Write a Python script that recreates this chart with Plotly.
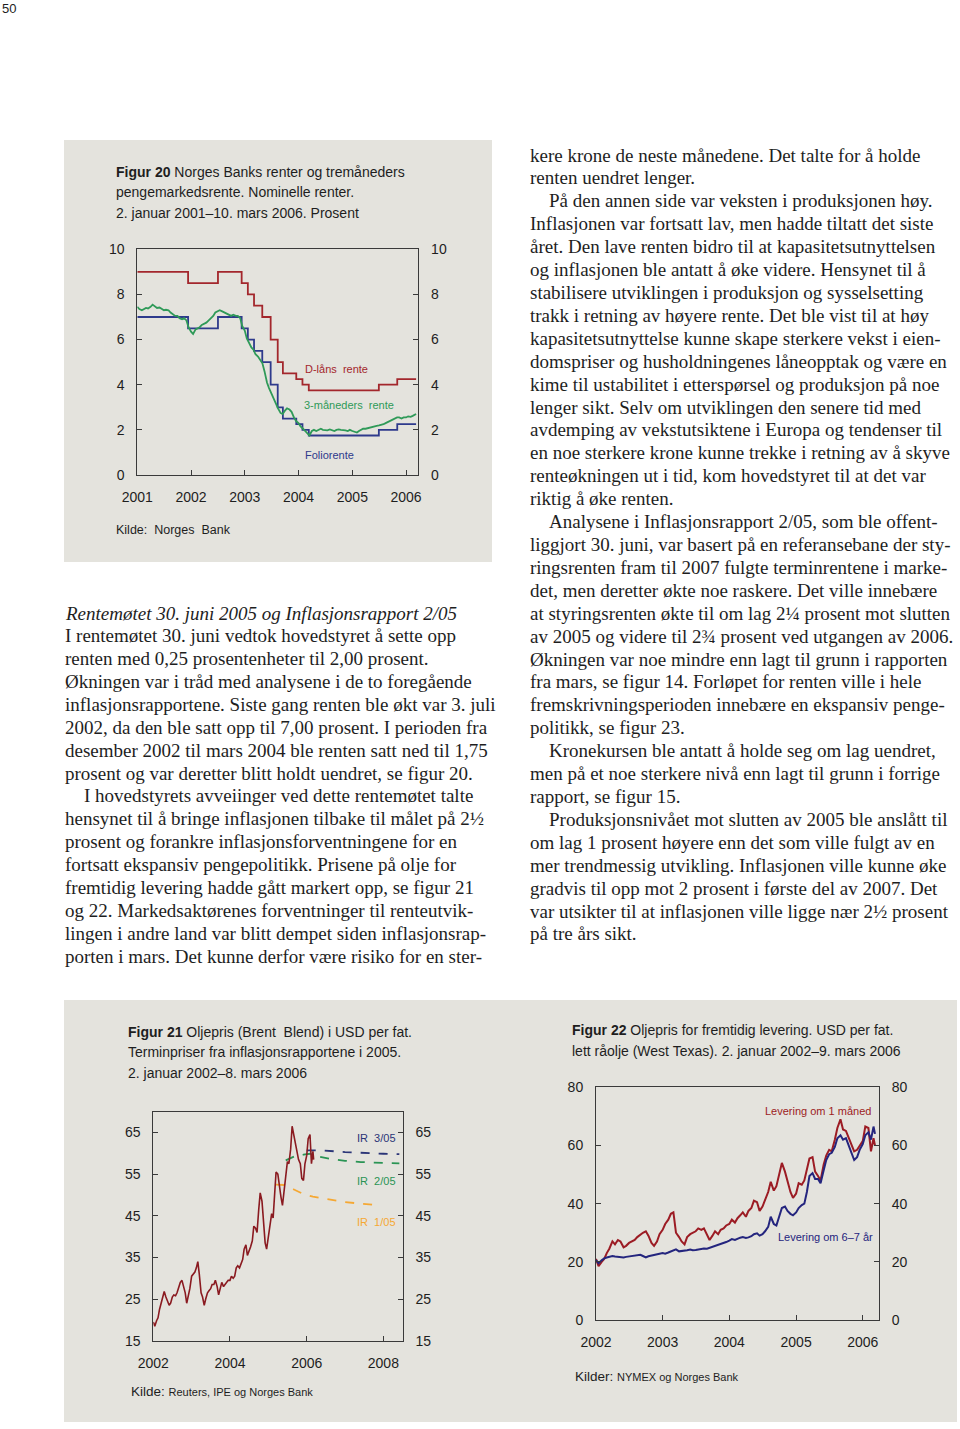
import pandas as pd
import plotly.graph_objects as go

# ---------------- DATA ----------------
# Figur 20: policy rates (step series) and 3-month money market rate
policy_dates = ['2001-01-01', '2001-12-12', '2002-07-03', '2002-12-11', '2003-01-22',
                '2003-03-05', '2003-04-30', '2003-06-26', '2003-08-13', '2003-09-17',
                '2003-12-17', '2004-01-28', '2004-03-11', '2005-06-30', '2005-11-02',
                '2006-03-10']
folio_rate = [7.0, 6.5, 7.0, 6.5, 6.0, 5.5, 5.0, 4.0, 3.0, 2.5, 2.25, 2.0, 1.75, 2.0, 2.25, 2.25]
dlan_rate = [9.0, 8.5, 9.0, 8.5, 8.0, 7.5, 7.0, 6.0, 5.0, 4.5, 4.25, 4.0, 3.75, 4.0, 4.25, 4.25]

nibor_3m = [
    # 2001
    7.45, 7.35, 7.30, 7.35, 7.40, 7.38, 7.45, 7.55, 7.45, 7.40, 7.42, 7.35,
    7.30, 7.32, 7.30, 7.20, 7.10, 7.05, 7.05, 6.95, 6.90, 6.95, 6.85, 6.55,
    # 2002
    6.35, 6.25, 6.45, 6.50, 6.55, 6.65, 6.70, 6.75, 6.85, 6.95, 7.05, 7.20,
    7.25, 7.30, 7.25, 7.20, 7.15, 7.10, 7.05, 7.10, 7.05, 7.05, 6.95, 6.60,
    # 2003
    6.40, 6.05, 5.80, 5.65, 5.55, 5.35, 5.25, 5.10, 4.95, 4.60, 4.10, 3.85,
    3.60, 3.40, 3.10, 2.95, 2.75, 2.70, 2.85, 2.95, 2.90, 2.80, 2.55, 2.40,
    # 2004
    2.30, 2.15, 2.05, 1.95, 1.85, 1.75, 1.95, 2.00, 1.95, 2.00, 2.05, 2.00,
    2.00, 1.98, 2.02, 1.98, 1.95, 2.00, 2.02, 2.00, 2.00, 1.98, 1.95, 2.00,
    # 2005
    1.95, 1.92, 1.88, 1.95, 2.00, 2.05, 2.05, 2.08, 2.10, 2.12, 2.15, 2.18,
    2.20, 2.22, 2.25, 2.30, 2.35, 2.40, 2.45, 2.50, 2.55, 2.55, 2.50, 2.55,
    # 2006
    2.55, 2.60, 2.58, 2.62, 2.68, 2.70]
nibor_start, nibor_end = '2001-01-01', '2006-03-10'

# Figur 21: Brent Blend, USD per barrel, and forward prices from the 2005 reports
brent = [
    # 2002
    19.5, 18.5, 19.8, 20.5, 22.5, 24.0, 26.0, 26.8, 25.5, 24.5, 23.5, 24.0,
    25.5, 26.0, 25.8, 26.5, 28.0, 29.0, 29.5, 28.0, 26.5, 24.0, 25.5, 27.5,
    # 2003
    30.5, 31.0, 31.5, 32.5, 34.0, 31.0, 26.5, 25.5, 23.5, 25.0, 26.5, 27.0,
    27.5, 28.5, 28.5, 29.5, 28.0, 26.0, 28.0, 29.0, 28.0, 28.5, 29.0, 29.5,
    # 2004
    29.5, 30.5, 30.0, 30.5, 32.5, 33.0, 32.5, 33.5, 34.5, 37.0, 38.0, 35.5,
    36.5, 37.5, 39.0, 42.5, 42.0, 41.0, 46.5, 50.5, 48.5, 43.0, 38.5, 37.0,
    # 2005
    40.5, 43.0, 45.5, 44.5, 50.0, 55.5, 55.0, 52.0, 49.5, 47.5, 51.0, 55.0,
    58.0, 57.5, 61.0, 66.5, 64.5, 62.5, 61.0, 58.5, 57.5, 54.0, 53.5, 57.5,
    # 2006
    59.5, 63.5, 64.5, 57.5, 60.5, 58.5]
brent_start, brent_end = '2002-01-01', '2006-03-08'

ir105_dates = ['2005-03-15', '2005-06-01', '2005-09-01', '2005-12-01', '2006-03-01',
               '2006-06-01', '2006-09-01', '2007-01-01', '2007-06-01', '2007-12-01']
ir105_price = [52.5, 52.4, 51.3, 50.2, 49.6, 49.2, 48.8, 48.3, 47.9, 47.5]
ir205_dates = ['2005-06-15', '2005-09-01', '2005-12-01', '2006-02-01', '2006-05-01',
               '2006-09-01', '2007-01-01', '2007-06-01', '2008-01-01', '2008-06-01']
ir205_price = [58.3, 59.2, 59.7, 59.9, 59.2, 58.6, 58.2, 57.9, 57.7, 57.6]
ir305_dates = ['2006-01-01', '2006-06-01', '2007-01-01', '2007-06-01', '2008-01-01', '2008-06-01']
ir305_price = [60.7, 60.7, 60.3, 60.1, 59.9, 59.8]

# Figur 22: WTI, delivery in 1 month and in 6-7 years
wti_1m = [
    # 2002
    21.0, 18.5, 20.0, 21.0, 23.0, 24.5, 27.0, 26.0, 27.5, 27.0, 25.0, 25.5,
    26.5, 27.0, 27.5, 28.5, 29.5, 30.0, 30.5, 29.0, 26.5, 25.5, 27.0, 29.5,
    # 2003
    31.0, 33.0, 34.5, 36.5, 37.0, 30.0, 28.5, 27.0, 26.0, 28.5, 29.5, 30.0,
    30.5, 31.5, 31.0, 31.5, 29.5, 27.5, 29.0, 30.5, 29.5, 31.0, 31.5, 32.5,
    # 2004
    33.0, 34.5, 33.5, 35.0, 36.0, 37.0, 35.5, 37.5, 38.5, 41.0, 40.5, 37.5,
    39.0, 41.0, 44.0, 47.5, 44.5, 46.0, 50.0, 54.0, 51.0, 47.5, 44.0, 42.0,
    # 2005
    43.5, 47.0, 46.5, 48.0, 52.0, 55.5, 56.0, 51.0, 49.5, 48.0, 53.5, 56.5,
    58.5, 58.0, 62.0, 66.0, 69.0, 65.5, 65.0, 63.0, 60.0, 58.0, 58.5, 60.0,
    # 2006
    61.5, 66.5, 66.0, 58.0, 62.5, 60.0]
wti_6y = [
    # 2002
    20.6, 19.5, 20.5, 21.2, 21.5, 21.8, 22.0, 21.8, 21.7, 21.6, 21.5, 21.7,
    21.8, 21.9, 22.0, 22.3, 22.4, 22.0, 21.5, 21.9, 22.2, 22.5, 22.6, 22.8,
    # 2003
    23.0, 22.8, 23.2, 23.5, 23.8, 24.3, 23.6, 23.8, 23.9, 24.0, 24.2, 24.0,
    24.1, 24.3, 24.5, 24.6, 24.5, 24.8, 25.2, 25.5, 25.8, 26.0, 26.3, 26.8,
    # 2004
    27.3, 27.8, 27.5, 28.0, 28.3, 28.5, 28.2, 28.4, 28.8, 29.5, 29.8, 29.0,
    29.5, 30.5, 32.0, 35.5, 33.0, 32.5, 35.5, 38.5, 39.0, 37.5, 36.5, 36.0,
    # 2005
    37.0, 38.5, 39.5, 40.0, 44.0, 49.5, 50.5, 48.5, 48.5, 47.0, 51.5, 55.0,
    57.0, 57.5, 59.5, 62.5, 63.5, 62.0, 62.5, 60.0, 57.0, 55.0, 56.0, 58.5,
    # 2006
    60.5, 63.5, 64.5, 62.0, 66.5, 64.0]
wti_start, wti_end = '2002-01-01', '2006-03-09'

fig20_yticks = [0, 2, 4, 6, 8, 10]
fig21_yticks = [15, 25, 35, 45, 55, 65]
fig22_yticks = [0, 20, 40, 60, 80]

# ---------------- TEXT ----------------
left_col = [
    "<i>Rentemøtet 30. juni 2005 og Inflasjonsrapport 2/05</i>",
    "I rentemøtet 30. juni vedtok hovedstyret å sette opp",
    "renten med 0,25 prosentenheter til 2,00 prosent.",
    "Økningen var i tråd med analysene i de to foregående",
    "inflasjonsrapportene. Siste gang renten ble økt var 3. juli",
    "2002, da den ble satt opp til 7,00 prosent. I perioden fra",
    "desember 2002 til mars 2004 ble renten satt ned til 1,75",
    "prosent og var deretter blitt holdt uendret, se figur 20.",
    "\u2003I hovedstyrets avveiinger ved dette rentemøtet talte",
    "hensynet til å bringe inflasjonen tilbake til målet på 2½",
    "prosent og forankre inflasjonsforventningene for en",
    "fortsatt ekspansiv pengepolitikk. Prisene på olje for",
    "fremtidig levering hadde gått markert opp, se figur 21",
    "og 22. Markedsaktørenes forventninger til renteutvik-",
    "lingen i andre land var blitt dempet siden inflasjonsrap-",
    "porten i mars. Det kunne derfor være risiko for en ster-",
]
right_col = [
    "kere krone de neste månedene. Det talte for å holde",
    "renten uendret lenger.",
    "\u2003På den annen side var veksten i produksjonen høy.",
    "Inflasjonen var fortsatt lav, men hadde tiltatt det siste",
    "året. Den lave renten bidro til at kapasitetsutnyttelsen",
    "og inflasjonen ble antatt å øke videre. Hensynet til å",
    "stabilisere utviklingen i produksjon og sysselsetting",
    "trakk i retning av høyere rente. Det ble vist til at høy",
    "kapasitetsutnyttelse kunne skape sterkere vekst i eien-",
    "domspriser og husholdningenes låneopptak og være en",
    "kime til ustabilitet i etterspørsel og produksjon på noe",
    "lenger sikt. Selv om utviklingen den senere tid med",
    "avdemping av vekstutsiktene i Europa og tendenser til",
    "en noe sterkere krone kunne trekke i retning av å skyve",
    "renteøkningen ut i tid, kom hovedstyret til at det var",
    "riktig å øke renten.",
    "\u2003Analysene i Inflasjonsrapport 2/05, som ble offent-",
    "liggjort 30. juni, var basert på en referansebane der sty-",
    "ringsrenten fram til 2007 fulgte terminrentene i marke-",
    "det, men deretter økte noe raskere. Det ville innebære",
    "at styringsrenten økte til om lag 2¼ prosent mot slutten",
    "av 2005 og videre til 2¾ prosent ved utgangen av 2006.",
    "Økningen var noe mindre enn lagt til grunn i rapporten",
    "fra mars, se figur 14. Forløpet for renten ville i hele",
    "fremskrivningsperioden innebære en ekspansiv penge-",
    "politikk, se figur 23.",
    "\u2003Kronekursen ble antatt å holde seg om lag uendret,",
    "men på et noe sterkere nivå enn lagt til grunn i forrige",
    "rapport, se figur 15.",
    "\u2003Produksjonsnivået mot slutten av 2005 ble anslått til",
    "om lag 1 prosent høyere enn det som ville fulgt av en",
    "mer trendmessig utvikling. Inflasjonen ville kunne øke",
    "gradvis til opp mot 2 prosent i første del av 2007. Det",
    "var utsikter til at inflasjonen ville ligge nær 2½ prosent",
    "på tre års sikt.",
]

# ---------------- STYLE ----------------
W, H = 960, 1429
SANS = "Liberation Sans, Arial, Helvetica, sans-serif"
SERIF = "Liberation Serif, Times New Roman, serif"
BOX = "#e4e3dd"
AX = "#3a3a3a"
TXT = "#1e1e1e"
RED20, GRN20, BLU20 = "#a3272c", "#2f9a58", "#2e3a8c"
BRENT = "#8a1a20"
IR1, IR2, IR3 = "#f5a833", "#2a9454", "#2b3577"
WRED, WBLU = "#9c1c24", "#24257e"
TICK = 14


def px(x):
    return x / W


def py(y):
    return 1 - y / H


def sms_dates(start, values, end):
    d = list(pd.date_range(start, periods=len(values) - 1, freq='SMS').strftime('%Y-%m-%d'))
    return d + [end]


fig = go.Figure()

# Figur 20 traces
fig.add_trace(go.Scatter(x=policy_dates, y=dlan_rate, mode='lines', line=dict(color=RED20, width=1.8, shape='hv'),
                         xaxis='x', yaxis='y', showlegend=False))
fig.add_trace(go.Scatter(x=policy_dates, y=folio_rate, mode='lines', line=dict(color=BLU20, width=1.8, shape='hv'),
                         xaxis='x', yaxis='y', showlegend=False))
fig.add_trace(go.Scatter(x=sms_dates(nibor_start, nibor_3m, nibor_end), y=nibor_3m, mode='lines',
                         line=dict(color=GRN20, width=1.8), xaxis='x', yaxis='y', showlegend=False))
fig.add_trace(go.Scatter(x=[], y=[], xaxis='x', yaxis='y2', showlegend=False, hoverinfo='skip'))

# Figur 21 traces
fig.add_trace(go.Scatter(x=ir105_dates, y=ir105_price, mode='lines', line=dict(color=IR1, width=1.8, dash='dash'),
                         xaxis='x2', yaxis='y3', showlegend=False))
fig.add_trace(go.Scatter(x=ir205_dates, y=ir205_price, mode='lines', line=dict(color=IR2, width=1.8, dash='dash'),
                         xaxis='x2', yaxis='y3', showlegend=False))
fig.add_trace(go.Scatter(x=ir305_dates, y=ir305_price, mode='lines', line=dict(color=IR3, width=1.8, dash='dash'),
                         xaxis='x2', yaxis='y3', showlegend=False))
fig.add_trace(go.Scatter(x=sms_dates(brent_start, brent, brent_end), y=brent, mode='lines',
                         line=dict(color=BRENT, width=1.6), xaxis='x2', yaxis='y3', showlegend=False))
fig.add_trace(go.Scatter(x=[], y=[], xaxis='x2', yaxis='y4', showlegend=False, hoverinfo='skip'))

# Figur 22 traces
fig.add_trace(go.Scatter(x=sms_dates(wti_start, wti_1m, wti_end), y=wti_1m, mode='lines',
                         line=dict(color=WRED, width=2), xaxis='x3', yaxis='y5', showlegend=False))
fig.add_trace(go.Scatter(x=sms_dates(wti_start, wti_6y, wti_end), y=wti_6y, mode='lines',
                         line=dict(color=WBLU, width=2), xaxis='x3', yaxis='y5', showlegend=False))
fig.add_trace(go.Scatter(x=[], y=[], xaxis='x3', yaxis='y6', showlegend=False, hoverinfo='skip'))


def xax(dom, rng, dtick, anchor):
    return dict(domain=[px(dom[0]), px(dom[1])], range=rng, type='date', dtick=dtick, tickformat='%Y',
                ticks='inside', ticklen=5, tickcolor=AX, showline=True, linecolor=AX, linewidth=1,
                mirror=True, showgrid=False, zeroline=False, anchor=anchor, ticklabelstandoff=9,
                automargin=False, tickfont=dict(family=SANS, size=TICK, color=TXT))


def yax(dom, rng, tickvals, anchor, side='left', overlay=None):
    d = dict(range=rng, tickvals=tickvals, ticks='inside', ticklen=5, tickcolor=AX, showline=True,
             linecolor=AX, linewidth=1, showgrid=False, zeroline=False, anchor=anchor, side=side,
             ticklabelstandoff=9, automargin=False, tickfont=dict(family=SANS, size=TICK, color=TXT))
    if overlay:
        d['overlaying'] = overlay
    else:
        d['domain'] = [py(dom[1]), py(dom[0])]
        d['mirror'] = True
    return d


layout = dict(
    width=W, height=H, autosize=False, margin=dict(l=0, r=0, t=0, b=0, pad=0, autoexpand=False),
    paper_bgcolor='white', plot_bgcolor='rgba(0,0,0,0)', showlegend=False,
    xaxis=xax((137.3, 418.3), ['2001-01-01', '2006-03-25'], 'M12', 'y'),
    yaxis=yax((249.3, 475), [0, 10], fig20_yticks, 'x'),
    yaxis2=yax(None, [0, 10], fig20_yticks, 'x', 'right', 'y'),
    xaxis2=xax((153.3, 402.7), ['2002-01-01', '2008-07-03'], 'M24', 'y3'),
    yaxis3=yax((1111.7, 1340.7), [15, 70], fig21_yticks, 'x2'),
    yaxis4=yax(None, [15, 70], fig21_yticks, 'x2', 'right', 'y3'),
    xaxis3=xax((596, 879), ['2002-01-01', '2006-03-31'], 'M12', 'y5'),
    yaxis5=yax((1087.3, 1320), [0, 80], fig22_yticks, 'x3'),
    yaxis6=yax(None, [0, 80], fig22_yticks, 'x3', 'right', 'y5'),
)
fig.update_layout(**layout)

# grey panels
shapes = [
    dict(type='rect', xref='paper', yref='paper', x0=px(64), x1=px(492), y0=py(562), y1=py(140),
         fillcolor=BOX, line=dict(width=0), layer='below'),
    dict(type='rect', xref='paper', yref='paper', x0=px(64), x1=px(957), y0=py(1422), y1=py(1000),
         fillcolor=BOX, line=dict(width=0), layer='below'),
]
fig.update_layout(shapes=shapes)

ann = []


def text(x, y, s, size, family=SANS, color=TXT, xanchor='left'):
    ann.append(dict(x=px(x), y=py(y), xref='paper', yref='paper', text=s, showarrow=False,
                    xanchor=xanchor, yanchor='middle', font=dict(family=family, size=size, color=color)))


text(0, 8, "50", 13)

# Figur 20 caption and labels
text(114, 172, "<b>Figur 20</b> Norges Banks renter og tremåneders", 14)
text(114, 192, "pengemarkedsrente. Nominelle renter.", 14)
text(114, 213, "2. januar 2001–10. mars 2006. Prosent", 14)
text(114, 530, "Kilde:  Norges  Bank", 12.5)
text(303, 369, "D-låns  rente", 11, color=RED20)
text(302, 405, "3-måneders  rente", 11, color=GRN20)
text(303, 455, "Foliorente", 11, color=BLU20)

# Figur 21
text(126, 1032, "<b>Figur 21</b> Oljepris (Brent  Blend) i USD per fat.", 14)
text(126, 1052, "Terminpriser fra inflasjonsrapportene i 2005.", 14)
text(126, 1073, "2. januar 2002–8. mars 2006", 14)
text(129, 1391, "Kilde: <span style='font-size:11px'>Reuters, IPE og Norges Bank</span>", 13.5)
text(355, 1138, "IR  3/05", 11, color=IR3)
text(355, 1181, "IR  2/05", 11, color=IR2)
text(355, 1222, "IR  1/05", 11, color=IR1)

# Figur 22
text(570, 1030, "<b>Figur 22</b> Oljepris for fremtidig levering. USD per fat.", 14)
text(570, 1051, "lett råolje (West Texas). 2. januar 2002–9. mars 2006", 14)
text(573, 1376, "Kilder: <span style='font-size:11px'>NYMEX og Norges Bank</span>", 13.5)
text(763, 1111, "Levering om 1 måned", 11, color=WRED)
text(776, 1237, "Levering om 6–7 år", 11, color=WBLU)

# body text
for i, line in enumerate(left_col):
    text(63, 613 + i * 22.87, line, 19, family=SERIF)
for i, line in enumerate(right_col):
    text(528, 155 + i * 22.91, line, 19, family=SERIF)

fig.update_layout(annotations=ann)

fig.write_html("out.html", config={'displayModeBar': False},
               post_script="document.body.style.margin='0';")
